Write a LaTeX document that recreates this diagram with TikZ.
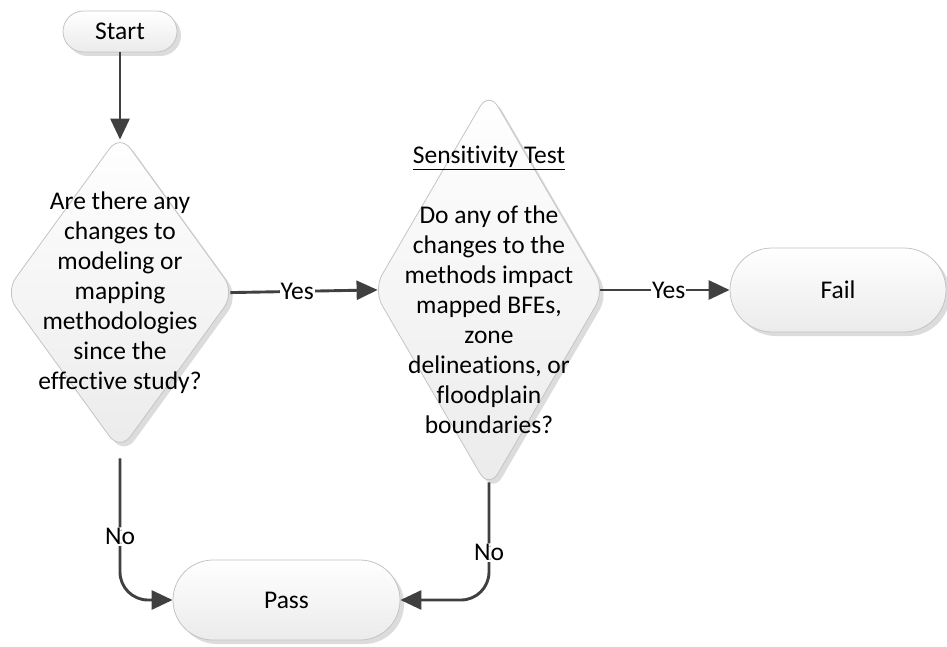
\documentclass[tikz,border=0pt]{standalone}
\usepackage{fontspec}
\setmainfont{Carlito}[Ligatures=NoCommon]
\usetikzlibrary{shapes.geometric,shapes.misc,arrows.meta,shadows}
\definecolor{linegray}{HTML}{404040}
\definecolor{edgegray}{HTML}{C4C4C4}
\definecolor{shadegray}{HTML}{DCDCDC}
\definecolor{fillbottom}{HTML}{EBEBEB}

\begin{document}
\begin{tikzpicture}[x=1pt,y=-1pt,
  every node/.style={font=\fontsize{25.5}{30}\selectfont},
  box/.style={draw=edgegray, line width=0.8pt, top color=white, bottom color=fillbottom,
    drop shadow={shadow xshift=4pt, shadow yshift=-4pt, fill=shadegray, opacity=1}},
  pill/.style={box, rounded rectangle, inner sep=0pt},
  decision/.style={box, diamond, rounded corners=18pt, inner sep=0pt},
  conn/.style={draw=linegray, line width=2.9pt, -{Triangle[length=21pt,width=19pt]}},
  lbl/.style={fill=white, inner sep=1pt},
]
\useasboundingbox (0,0) rectangle (947,647);

% terminals and decisions
\node[pill, minimum width=114pt, minimum height=41pt] (start) at (120,31.5) {Start};
\node[decision, minimum width=230pt, minimum height=317pt] (d1) at (120,292.5) {};
\node[align=center] (d1t) at (d1.center) {Are there any\\changes to\\modeling or\\mapping\\methodologies\\since the\\effective study?};
\node[decision, minimum width=232pt, minimum height=398pt] (d2) at (489,290) {};
\node[align=center] (d2t) at (d2.center) {\underline{Sensitivity Test}\\[30pt]Do any of the\\changes to the\\methods impact\\mapped BFEs,\\zone\\delineations, or\\floodplain\\boundaries?};
\node[pill, minimum width=216pt, minimum height=84pt] (fail) at (838,290) {Fail};
\node[pill, minimum width=227pt, minimum height=80pt] (pass) at (286.5,600) {Pass};

% connectors
\draw[conn, shorten >=-6pt] (start.south) -- (d1.north);
\draw[conn, shorten <=-5pt, shorten >=-5pt] (d1.east) -- node[lbl, pos=0.45] {Yes} (d2.west);
\draw[conn, shorten <=-5pt] (d2.east) -- node[lbl, pos=0.51] {Yes} (fail.west);
\draw[conn, rounded corners=28pt, shorten <=7pt] (d1.south) |- node[lbl, pos=0.287] {No} (pass.west);
\draw[conn, rounded corners=28pt, shorten <=-7pt] (d2.south) |- node[lbl, pos=0.286] {No} (pass.east);
\end{tikzpicture}
\end{document}
